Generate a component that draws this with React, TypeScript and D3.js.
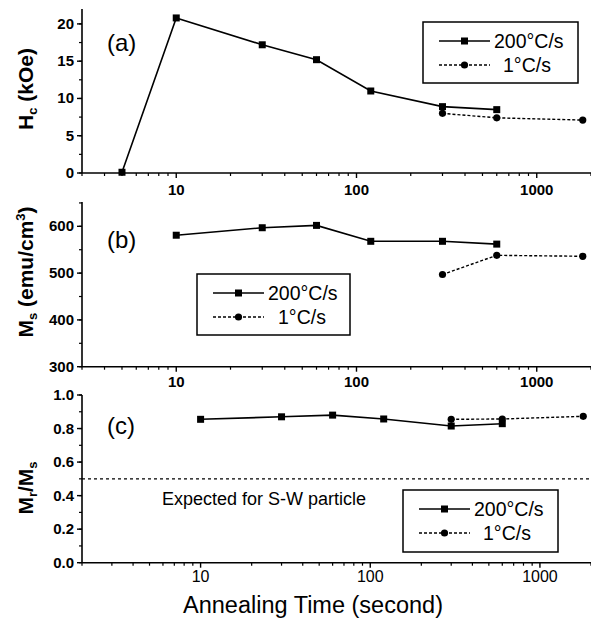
import { useEffect, useRef } from "react";
import * as d3 from "d3";

// Annealing times (seconds)
const times200Hc = [5, 10, 30, 60, 120, 300, 600];
const times200 = [10, 30, 60, 120, 300, 600];
const times1 = [300, 600, 1800];

// (a) coercivity, kOe
const hc200 = [0.1, 20.8, 17.2, 15.2, 11.0, 8.9, 8.5];
const hc1 = [8.0, 7.4, 7.1];

// (b) saturation magnetization, emu/cm3
const ms200 = [581, 597, 602, 568, 568, 562];
const ms1 = [497, 538, 536];

// (c) squareness Mr/Ms
const mr200 = [0.855, 0.87, 0.88, 0.857, 0.815, 0.829];
const mr1 = [0.855, 0.857, 0.873];
const swLimit = 0.5;

const xTickLabels = [10, 100, 1000];
const legendLabels = ["200°C/s", "1°C/s"];

const W = 591;
const H = 622;
const FONT = "Liberation Sans, Arial, sans-serif";

interface Panel {
  tag: string;
  xDomain: [number, number];
  domain: [number, number];
  range: [number, number];
  ticks: number[];
  minorStep: number;
  fmt: (v: number) => string;
  s200: { t: number[]; v: number[] };
  s1: { t: number[]; v: number[] };
  legend: { x: number; y: number; w: number; h: number; textX2: number };
  labelY: number;
  xTickY: number;
  tagY: number;
  xTitle?: boolean;
}

export default function App() {
  const svgRef = useRef<SVGSVGElement>(null);

  useEffect(() => {
    if (!svgRef.current) return;
    const svg = d3.select(svgRef.current);
    svg.selectAll("*").remove();

    const panels: Panel[] = [
      {
        tag: "(a)",
        xDomain: [3, 2000],
        domain: [0, 22],
        range: [173, 9],
        ticks: [0, 5, 10, 15, 20],
        minorStep: 2.5,
        fmt: (v) => `${v}`,
        s200: { t: times200Hc, v: hc200 },
        s1: { t: times1, v: hc1 },
        legend: { x: 423, y: 22, w: 155, h: 61, textX2: 503 },
        labelY: 89,
        xTickY: 195,
        tagY: 51,
      },
      {
        tag: "(b)",
        xDomain: [3, 2000],
        domain: [300, 652],
        range: [366.7, 202],
        ticks: [300, 400, 500, 600],
        minorStep: 50,
        fmt: (v) => `${v}`,
        s200: { t: times200, v: ms200 },
        s1: { t: times1, v: ms1 },
        legend: { x: 197, y: 274, w: 153, h: 61, textX2: 278 },
        labelY: 272,
        xTickY: 387,
        tagY: 248,
      },
      {
        tag: "(c)",
        xDomain: [2, 2000],
        domain: [0, 1],
        range: [562.7, 395],
        ticks: [0, 0.2, 0.4, 0.6, 0.8, 1.0],
        minorStep: 0.1,
        fmt: (v) => v.toFixed(1),
        s200: { t: times200, v: mr200 },
        s1: { t: times1, v: mr1 },
        legend: { x: 403, y: 490, w: 155, h: 62, textX2: 483 },
        labelY: 488,
        xTickY: 582,
        tagY: 434,
        xTitle: true,
      },
    ];

    panels.forEach((p, pi) => {
      const x = d3.scaleLog().domain(p.xDomain).range([82, 591]);
      const x0 = x.range()[0];
      const x1 = x.range()[1];
      const y = d3.scaleLinear().domain(p.domain).range(p.range);
      const g = svg.append("g");

      // axes lines
      g.append("line")
        .attr("x1", x0).attr("x2", x0)
        .attr("y1", y(p.domain[0])).attr("y2", y(p.domain[1]))
        .attr("stroke", "#000").attr("stroke-width", 1.6);
      g.append("line")
        .attr("x1", x0).attr("x2", x1)
        .attr("y1", y(p.domain[0])).attr("y2", y(p.domain[0]))
        .attr("stroke", "#000").attr("stroke-width", 1.6);

      // y minor ticks
      const minors = d3.range(p.domain[0], p.domain[1] + 1e-9, p.minorStep);
      minors.forEach((v) => {
        g.append("line")
          .attr("x1", x0 - 3).attr("x2", x0)
          .attr("y1", y(v)).attr("y2", y(v))
          .attr("stroke", "#000").attr("stroke-width", 1.2);
      });
      // y major ticks + labels
      p.ticks.forEach((v) => {
        g.append("line")
          .attr("x1", x0 - 5).attr("x2", x0)
          .attr("y1", y(v)).attr("y2", y(v))
          .attr("stroke", "#000").attr("stroke-width", 1.4);
        g.append("text")
          .attr("x", x0 - 8).attr("y", y(v) + 5)
          .attr("text-anchor", "end")
          .attr("font-family", FONT).attr("font-weight", "bold")
          .attr("font-size", 15).text(p.fmt(v));
      });

      // x ticks
      const xMinor: number[] = [];
      [1, 10, 100, 1000].forEach((dec) => {
        d3.range(2, 10).forEach((m) => {
          const t = dec * m;
          if (t >= p.xDomain[0] && t <= p.xDomain[1]) xMinor.push(t);
        });
      });
      const yb = y(p.domain[0]);
      xMinor.forEach((t) => {
        g.append("line")
          .attr("x1", x(t)).attr("x2", x(t))
          .attr("y1", yb).attr("y2", yb + 3)
          .attr("stroke", "#000").attr("stroke-width", 1.2);
      });
      xTickLabels.forEach((t) => {
        g.append("line")
          .attr("x1", x(t)).attr("x2", x(t))
          .attr("y1", yb).attr("y2", yb + 5)
          .attr("stroke", "#000").attr("stroke-width", 1.4);
        g.append("text")
          .attr("x", x(t)).attr("y", p.xTickY)
          .attr("text-anchor", "middle")
          .attr("font-family", FONT).attr("font-weight", pi === 2 ? "normal" : "bold")
          .attr("font-size", pi === 2 ? 16 : 15).text(`${t}`);
      });

      // panel tag
      g.append("text")
        .attr("x", 107).attr("y", p.tagY)
        .attr("font-family", FONT).attr("font-size", 24).text(p.tag);

      // S-W reference line
      if (pi === 2) {
        g.append("line")
          .attr("x1", x0).attr("x2", x1)
          .attr("y1", y(swLimit)).attr("y2", y(swLimit))
          .attr("stroke", "#000").attr("stroke-width", 1.3)
          .attr("stroke-dasharray", "3,3");
        g.append("text")
          .attr("x", 162).attr("y", y(swLimit) + 26)
          .attr("font-family", FONT).attr("font-size", 18)
          .text("Expected for S-W particle");
      }

      // series
      const line = d3.line<number>()
        .x((_, i) => x(p.s200.t[i]))
        .y((d) => y(d));
      g.append("path")
        .datum(p.s200.v)
        .attr("fill", "none").attr("stroke", "#000").attr("stroke-width", 1.6)
        .attr("d", line);
      const line1 = d3.line<number>()
        .x((_, i) => x(p.s1.t[i]))
        .y((d) => y(d));
      g.append("path")
        .datum(p.s1.v)
        .attr("fill", "none").attr("stroke", "#000").attr("stroke-width", 1.4)
        .attr("stroke-dasharray", "3,2")
        .attr("d", line1);
      p.s200.v.forEach((v, i) => {
        g.append("rect")
          .attr("x", x(p.s200.t[i]) - 3.5).attr("y", y(v) - 3.5)
          .attr("width", 7).attr("height", 7).attr("fill", "#000");
      });
      p.s1.v.forEach((v, i) => {
        g.append("circle")
          .attr("cx", x(p.s1.t[i])).attr("cy", y(v)).attr("r", 3.6).attr("fill", "#000");
      });

      // legend
      const L = p.legend;
      g.append("rect")
        .attr("x", L.x).attr("y", L.y).attr("width", L.w).attr("height", L.h)
        .attr("fill", "#fff").attr("stroke", "#000").attr("stroke-width", 1.5);
      const rowY = [L.y + 19, L.y + 43];
      const lx1 = L.x + 16;
      const lx2 = L.x + 67;
      const lm = (lx1 + lx2) / 2;
      g.append("line")
        .attr("x1", lx1).attr("x2", lx2).attr("y1", rowY[0]).attr("y2", rowY[0])
        .attr("stroke", "#000").attr("stroke-width", 1.5);
      g.append("rect")
        .attr("x", lm - 3.5).attr("y", rowY[0] - 3.5).attr("width", 7).attr("height", 7)
        .attr("fill", "#000");
      g.append("line")
        .attr("x1", lx1).attr("x2", lx2).attr("y1", rowY[1]).attr("y2", rowY[1])
        .attr("stroke", "#000").attr("stroke-width", 1.3).attr("stroke-dasharray", "3,2");
      g.append("circle").attr("cx", lm).attr("cy", rowY[1]).attr("r", 3.6).attr("fill", "#000");
      g.append("text")
        .attr("x", lx2 + 4).attr("y", rowY[0] + 7)
        .attr("font-family", FONT).attr("font-size", 19.5).text(legendLabels[0]);
      g.append("text")
        .attr("x", L.textX2).attr("y", rowY[1] + 7)
        .attr("font-family", FONT).attr("font-size", 19.5).text(legendLabels[1]);

      // y title
      const yt = g.append("text")
        .attr("transform", `translate(33,${p.labelY}) rotate(-90)`)
        .attr("text-anchor", "middle")
        .attr("font-family", FONT).attr("font-weight", "bold").attr("font-size", 21);
      if (pi === 0) {
        yt.append("tspan").text("H");
        yt.append("tspan").attr("font-size", 13).attr("dy", 4).text("c");
        yt.append("tspan").attr("dy", -4).text(" (kOe)");
      } else if (pi === 1) {
        yt.append("tspan").text("M");
        yt.append("tspan").attr("font-size", 13).attr("dy", 4).text("s");
        yt.append("tspan").attr("dy", -4).text(" (emu/cm");
        yt.append("tspan").attr("font-size", 13).attr("dy", -8).text("3");
        yt.append("tspan").attr("dy", 8).text(")");
      } else {
        yt.append("tspan").text("M");
        yt.append("tspan").attr("font-size", 13).attr("dy", 4).text("r");
        yt.append("tspan").attr("dy", -4).text("/M");
        yt.append("tspan").attr("font-size", 13).attr("dy", 4).text("s");
      }

      if (p.xTitle) {
        g.append("text")
          .attr("x", 313).attr("y", 613)
          .attr("text-anchor", "middle")
          .attr("font-family", FONT).attr("font-size", 23.5)
          .text("Annealing Time (second)");
      }
    });
  }, []);

  return (
    <svg
      ref={svgRef}
      width={W}
      height={H}
      viewBox={`0 0 ${W} ${H}`}
      style={{ position: "absolute", left: 0, top: 0, background: "#fff" }}
    />
  );
}
